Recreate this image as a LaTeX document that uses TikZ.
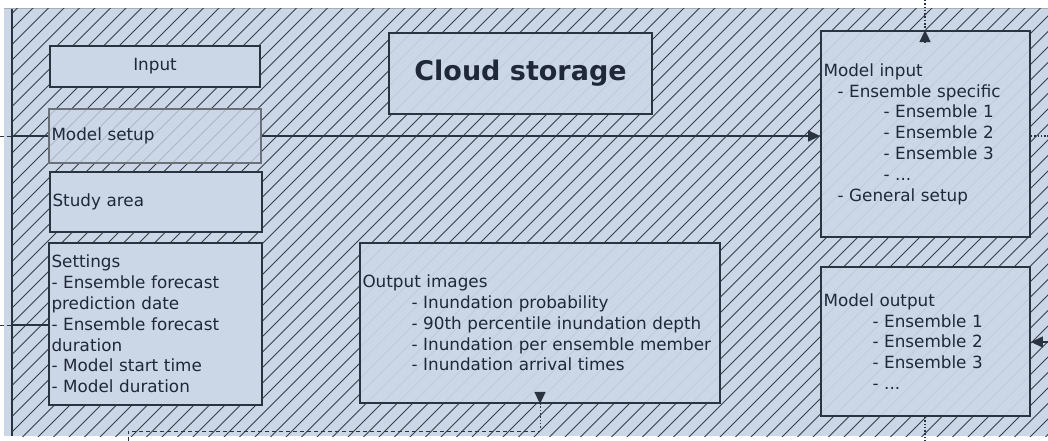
\documentclass[tikz,border=0pt]{standalone}
\usepackage{fontspec}
\setmainfont{DejaVu Sans}
\usetikzlibrary{arrows.meta}
\definecolor{bg}{HTML}{CBD6E6}
\definecolor{ink}{HTML}{2A3440}
\definecolor{hatchc}{HTML}{36404C}
\definecolor{txt}{HTML}{1E2838}
\definecolor{frameline}{HTML}{A8AEB6}
\begin{document}
\begin{tikzpicture}[x=1pt,y=-1pt,
  hatch/.style={draw=hatchc,line width=0.75pt},
  box/.style={draw=ink,line width=1.8pt,fill=bg,inner xsep=2.5pt,inner ysep=0pt,
    text=txt,font=\fontsize{16.8}{20.8}\selectfont},
  lbox/.style={box,align=left},
  faint/.style={fill opacity=0.93,text opacity=1},
  conn/.style={draw=ink,line width=1.4pt},
  tip/.style={-{Triangle[length=12pt,width=11pt]}},
  dashedline/.style={conn,line width=1pt,dash pattern=on 4pt off 3pt},
  dottedline/.style={conn,line width=1.2pt,dash pattern=on 1.5pt off 1.8pt}
]
\useasboundingbox (0,0) rectangle (1048,441);
% background lane
\fill[bg] (4,9) rectangle (1048,436);
\draw[frameline,line width=1pt] (4,9) -- (1048,9);
\begin{scope}
  \clip (12,9) rectangle (1048,436);
  \foreach \k in {0,...,96} \draw[hatch] ({10+15.5*\k},0) -- ({10+15.5*\k-441},441);
\end{scope}
\draw[ink,line width=1.6pt] (12,9) -- (12,436);

% nodes
\node[box,minimum width=210pt,minimum height=41pt] (input) at (155,66.5) {Input};
\node[lbox,faint,fill opacity=0.8,draw=ink!70,line width=1.5pt,text width=207pt,minimum width=212pt,minimum height=54pt] (setup) at (155,136) {Model setup};
\node[lbox,text width=207pt,minimum width=212pt,minimum height=60pt] (study) at (156,202) {Study area};
\node[lbox,text width=208pt,minimum width=213pt,minimum height=162pt] (settings) at (155.5,324)
 {Settings\\- Ensemble forecast\\prediction date\\- Ensemble forecast\\duration\\- Model start time\\- Model duration};
\node[box,faint,line width=1.5pt,minimum width=263pt,minimum height=81pt,font=\fontsize{27}{32}\selectfont\bfseries] (cloud) at (520.5,73.5) {Cloud storage};
\node[lbox,faint,text width=355pt,minimum width=360pt,minimum height=160pt] (outimg) at (540,323)
 {Output images\\\hspace*{49pt}- Inundation probability\\\hspace*{49pt}- 90th percentile inundation depth\\\hspace*{49pt}- Inundation per ensemble member\\\hspace*{49pt}- Inundation arrival times};
\node[lbox,faint,text width=204pt,minimum width=209pt,minimum height=206pt] (minput) at (925.5,134)
 {Model input\\\hspace*{14pt}- Ensemble specific\\\hspace*{60pt}- Ensemble 1\\\hspace*{60pt}- Ensemble 2\\\hspace*{60pt}- Ensemble 3\\\hspace*{60pt}- ...\\\hspace*{14pt}- General setup};
\node[lbox,faint,text width=204pt,minimum width=209pt,minimum height=149pt] (moutput) at (925.5,341.5)
 {Model output\\\hspace*{49pt}- Ensemble 1\\\hspace*{49pt}- Ensemble 2\\\hspace*{49pt}- Ensemble 3\\\hspace*{49pt}- ...};

% connector end points
\coordinate (inA) at (0,136);
\coordinate (inB) at (12,136);
\coordinate (setA) at (0,325);
\coordinate (setB) at (12,325);
\coordinate (botA) at (128,441);
\coordinate (botB) at (128,431);
\coordinate (botC) at (540,431);
\coordinate (topA) at (925,0);
\coordinate (rightA) at (1048,136);
\coordinate (rightB) at (1048,342);
\coordinate (downA) at (925,441);

% connectors
\draw[dashedline] (inA) -- (inB);
\draw[conn] (inB) -- (setup.west |- inB);
\draw[conn,tip] (setup.east |- inB) -- (minput.west |- inB);
\draw[dashedline] (setA) -- (setB);
\draw[conn] (setB) -- (settings.west |- setB);
\draw[dashedline] (botA) -- (botB) -- (botC);
\draw[dottedline,line width=1pt] (botC) -- ([yshift=10pt]outimg.south -| botC);
\draw[conn,tip] ([yshift=12pt]outimg.south -| botC) -- (outimg.south -| botC);
\draw[dottedline] (topA) -- ([yshift=-10pt]minput.north -| topA);
\draw[conn,tip] ([yshift=-12pt]minput.north -| topA) -- (minput.north -| topA);
\draw[dottedline] (minput.east |- rightA) -- (rightA);
\draw[conn,tip] (rightB) -- (moutput.east |- rightB);
\draw[dottedline] (moutput.south -| downA) -- (downA);
\end{tikzpicture}
\end{document}
